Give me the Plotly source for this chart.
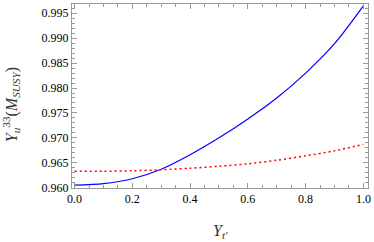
import plotly.graph_objects as go

x_vals = [0.0, 0.1, 0.2, 0.3, 0.4, 0.5, 0.6, 0.7, 0.8, 0.9, 1.0]
yu_solid = [0.9605, 0.9608, 0.9618, 0.9637, 0.9666, 0.9700, 0.9738, 0.9780, 0.9830, 0.9889, 0.9965]
yu_dotted = [0.9633, 0.9633, 0.9634, 0.9636, 0.9639, 0.9643, 0.9648, 0.9655, 0.9664, 0.9674, 0.9687]
x_ticks = [0.0, 0.2, 0.4, 0.6, 0.8, 1.0]
x_ticklabels = ["0.0", "0.2", "0.4", "0.6", "0.8", "1.0"]
y_ticks = [0.960, 0.965, 0.970, 0.975, 0.980, 0.985, 0.990, 0.995]
y_ticklabels = ["0.960", "0.965", "0.970", "0.975", "0.980", "0.985", "0.990", "0.995"]

fig = go.Figure()
fig.add_trace(go.Scatter(x=x_vals, y=yu_solid, mode="lines",
                         line=dict(color="#0000ff", width=1.2, shape="spline", smoothing=0.8), showlegend=False))
fig.add_trace(go.Scatter(x=x_vals, y=yu_dotted, mode="lines",
                         line=dict(color="#ff0000", width=1.5, dash="2px,3px", shape="spline", smoothing=0.8), showlegend=False))

font = dict(family="Liberation Serif", size=12, color="black")
axis_common = dict(showline=True, linecolor="#999999", linewidth=1, mirror="ticks", ticks="inside",
                   ticklen=5, tickcolor="#999999", showgrid=False, zeroline=False, tickfont=font,
                   ticklabeloverflow="allow")

fig.update_xaxes(range=[-0.009, 1.016], tickvals=x_ticks, ticktext=x_ticklabels,
                 minor=dict(dtick=0.05, ticklen=3, ticks="inside", tickcolor="#999999"), **axis_common)
fig.update_yaxes(range=[0.95994, 0.99686], tickvals=y_ticks, ticktext=y_ticklabels,
                 minor=dict(dtick=0.001, ticklen=3, ticks="inside", tickcolor="#999999"), **axis_common)

fig.add_annotation(text="<i>Y</i><sub><i>t′</i></sub>", xref="paper", yref="paper", x=0.5, y=0,
                   yshift=-55, xanchor="center", yanchor="bottom", showarrow=False,
                   font=dict(family="Liberation Serif", size=16, color="#333333"))
fig.add_annotation(text="<i>Y</i><sub><i>u</i></sub><sup>33</sup>(<i>M</i><sub><i>SUSY</i></sub>)",
                   xref="paper", yref="paper", x=0, y=0.45, xshift=-61, textangle=-90,
                   xanchor="center", yanchor="middle", showarrow=False,
                   font=dict(family="Liberation Serif", size=16, color="#333333"))

fig.update_layout(width=374, height=242, margin=dict(l=72, r=3, t=3, b=54),
                  plot_bgcolor="white", paper_bgcolor="white", font=font)
fig.write_html("out.html", config={"displayModeBar": False},
               post_script="document.body.style.margin='0';document.body.style.padding='0';document.body.style.overflow='hidden';")
